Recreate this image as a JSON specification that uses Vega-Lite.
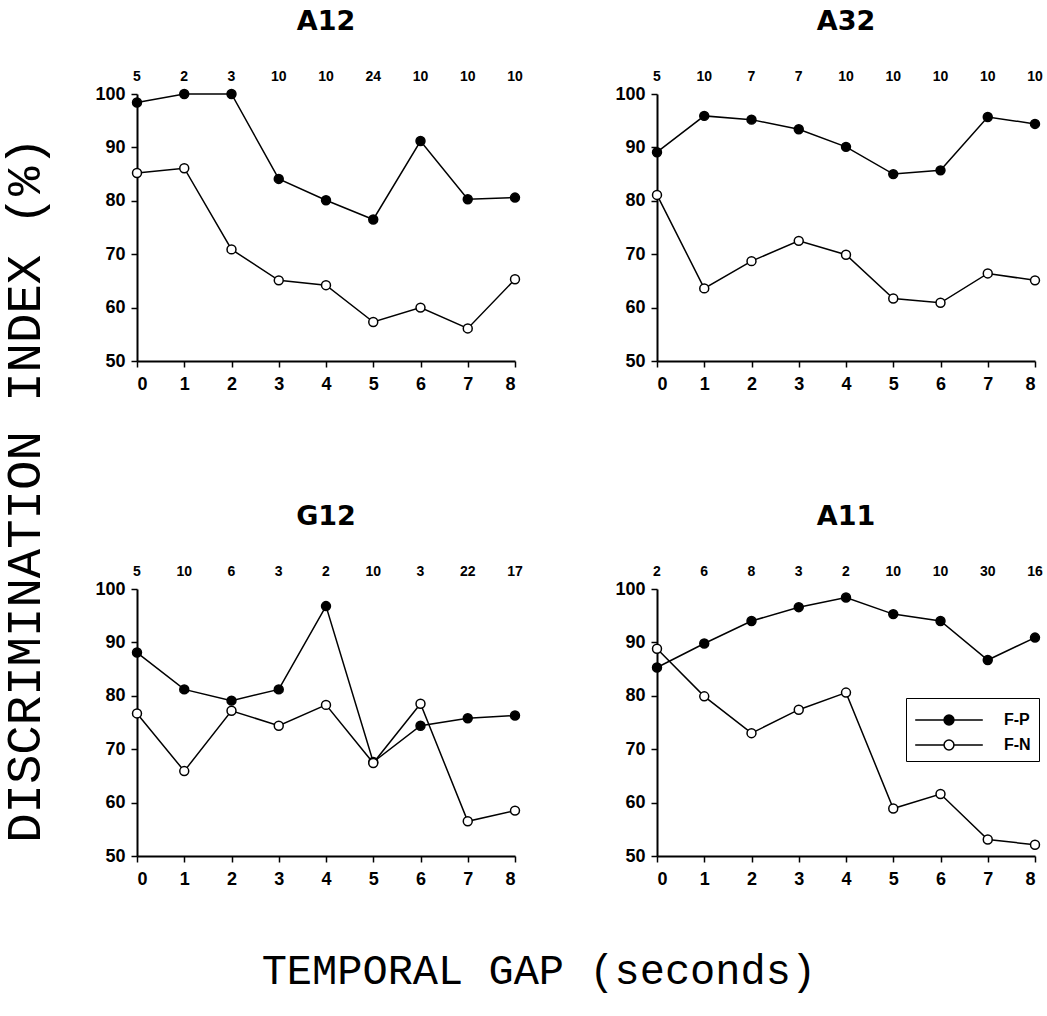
{
  "$schema": "https://vega.github.io/schema/vega-lite/v6.json",
  "background": "white",
  "padding": {"left": 0, "top": 8, "right": 0, "bottom": 16},
  "config": {
    "view": {"stroke": null},
    "axis": {
      "grid": false,
      "domainColor": "black",
      "domainWidth": 2,
      "tickColor": "black",
      "tickWidth": 1.5,
      "tickSize": 6,
      "labelFont": "Liberation Sans",
      "labelFontWeight": "bold",
      "labelFontSize": 18,
      "labelColor": "black",
      "title": null
    },
    "title": {"font": "DejaVu Sans", "fontWeight": "bold", "fontSize": 27, "color": "black", "offset": 34}
  },
  "datasets": {
    "points": [
      {"panel": "A12", "gap": 0, "cond": "F-P", "value": 98.4},
      {"panel": "A12", "gap": 1, "cond": "F-P", "value": 100},
      {"panel": "A12", "gap": 2, "cond": "F-P", "value": 100},
      {"panel": "A12", "gap": 3, "cond": "F-P", "value": 84.1},
      {"panel": "A12", "gap": 4, "cond": "F-P", "value": 80.1},
      {"panel": "A12", "gap": 5, "cond": "F-P", "value": 76.5},
      {"panel": "A12", "gap": 6, "cond": "F-P", "value": 91.2},
      {"panel": "A12", "gap": 7, "cond": "F-P", "value": 80.3},
      {"panel": "A12", "gap": 8, "cond": "F-P", "value": 80.6},
      {"panel": "A12", "gap": 0, "cond": "F-N", "value": 85.2},
      {"panel": "A12", "gap": 1, "cond": "F-N", "value": 86.1},
      {"panel": "A12", "gap": 2, "cond": "F-N", "value": 70.9},
      {"panel": "A12", "gap": 3, "cond": "F-N", "value": 65.1},
      {"panel": "A12", "gap": 4, "cond": "F-N", "value": 64.2},
      {"panel": "A12", "gap": 5, "cond": "F-N", "value": 57.3},
      {"panel": "A12", "gap": 6, "cond": "F-N", "value": 60.0},
      {"panel": "A12", "gap": 7, "cond": "F-N", "value": 56.1},
      {"panel": "A12", "gap": 8, "cond": "F-N", "value": 65.3},
      {"panel": "A32", "gap": 0, "cond": "F-P", "value": 89.1},
      {"panel": "A32", "gap": 1, "cond": "F-P", "value": 95.9},
      {"panel": "A32", "gap": 2, "cond": "F-P", "value": 95.2},
      {"panel": "A32", "gap": 3, "cond": "F-P", "value": 93.4},
      {"panel": "A32", "gap": 4, "cond": "F-P", "value": 90.1},
      {"panel": "A32", "gap": 5, "cond": "F-P", "value": 85.0},
      {"panel": "A32", "gap": 6, "cond": "F-P", "value": 85.7},
      {"panel": "A32", "gap": 7, "cond": "F-P", "value": 95.7},
      {"panel": "A32", "gap": 8, "cond": "F-P", "value": 94.4},
      {"panel": "A32", "gap": 0, "cond": "F-N", "value": 81.1},
      {"panel": "A32", "gap": 1, "cond": "F-N", "value": 63.6},
      {"panel": "A32", "gap": 2, "cond": "F-N", "value": 68.7},
      {"panel": "A32", "gap": 3, "cond": "F-N", "value": 72.5},
      {"panel": "A32", "gap": 4, "cond": "F-N", "value": 69.9},
      {"panel": "A32", "gap": 5, "cond": "F-N", "value": 61.7},
      {"panel": "A32", "gap": 6, "cond": "F-N", "value": 60.9},
      {"panel": "A32", "gap": 7, "cond": "F-N", "value": 66.4},
      {"panel": "A32", "gap": 8, "cond": "F-N", "value": 65.1},
      {"panel": "G12", "gap": 0, "cond": "F-P", "value": 88.1},
      {"panel": "G12", "gap": 1, "cond": "F-P", "value": 81.2},
      {"panel": "G12", "gap": 2, "cond": "F-P", "value": 79.1},
      {"panel": "G12", "gap": 3, "cond": "F-P", "value": 81.2},
      {"panel": "G12", "gap": 4, "cond": "F-P", "value": 96.8},
      {"panel": "G12", "gap": 5, "cond": "F-P", "value": 67.6},
      {"panel": "G12", "gap": 6, "cond": "F-P", "value": 74.4},
      {"panel": "G12", "gap": 7, "cond": "F-P", "value": 75.8},
      {"panel": "G12", "gap": 8, "cond": "F-P", "value": 76.3},
      {"panel": "G12", "gap": 0, "cond": "F-N", "value": 76.7},
      {"panel": "G12", "gap": 1, "cond": "F-N", "value": 65.9},
      {"panel": "G12", "gap": 2, "cond": "F-N", "value": 77.2},
      {"panel": "G12", "gap": 3, "cond": "F-N", "value": 74.4},
      {"panel": "G12", "gap": 4, "cond": "F-N", "value": 78.3},
      {"panel": "G12", "gap": 5, "cond": "F-N", "value": 67.4},
      {"panel": "G12", "gap": 6, "cond": "F-N", "value": 78.5},
      {"panel": "G12", "gap": 7, "cond": "F-N", "value": 56.5},
      {"panel": "G12", "gap": 8, "cond": "F-N", "value": 58.5},
      {"panel": "A11", "gap": 0, "cond": "F-P", "value": 85.3},
      {"panel": "A11", "gap": 1, "cond": "F-P", "value": 89.8},
      {"panel": "A11", "gap": 2, "cond": "F-P", "value": 94.0},
      {"panel": "A11", "gap": 3, "cond": "F-P", "value": 96.6},
      {"panel": "A11", "gap": 4, "cond": "F-P", "value": 98.4},
      {"panel": "A11", "gap": 5, "cond": "F-P", "value": 95.3},
      {"panel": "A11", "gap": 6, "cond": "F-P", "value": 94.0},
      {"panel": "A11", "gap": 7, "cond": "F-P", "value": 86.7},
      {"panel": "A11", "gap": 8, "cond": "F-P", "value": 90.9},
      {"panel": "A11", "gap": 0, "cond": "F-N", "value": 88.8},
      {"panel": "A11", "gap": 1, "cond": "F-N", "value": 79.9},
      {"panel": "A11", "gap": 2, "cond": "F-N", "value": 73.0},
      {"panel": "A11", "gap": 3, "cond": "F-N", "value": 77.4},
      {"panel": "A11", "gap": 4, "cond": "F-N", "value": 80.6},
      {"panel": "A11", "gap": 5, "cond": "F-N", "value": 58.9},
      {"panel": "A11", "gap": 6, "cond": "F-N", "value": 61.6},
      {"panel": "A11", "gap": 7, "cond": "F-N", "value": 53.1},
      {"panel": "A11", "gap": 8, "cond": "F-N", "value": 52.1}
    ],
    "counts": [
      {"panel": "A12", "gap": 0, "n": 5}, {"panel": "A12", "gap": 1, "n": 2}, {"panel": "A12", "gap": 2, "n": 3},
      {"panel": "A12", "gap": 3, "n": 10}, {"panel": "A12", "gap": 4, "n": 10}, {"panel": "A12", "gap": 5, "n": 24},
      {"panel": "A12", "gap": 6, "n": 10}, {"panel": "A12", "gap": 7, "n": 10}, {"panel": "A12", "gap": 8, "n": 10},
      {"panel": "A32", "gap": 0, "n": 5}, {"panel": "A32", "gap": 1, "n": 10}, {"panel": "A32", "gap": 2, "n": 7},
      {"panel": "A32", "gap": 3, "n": 7}, {"panel": "A32", "gap": 4, "n": 10}, {"panel": "A32", "gap": 5, "n": 10},
      {"panel": "A32", "gap": 6, "n": 10}, {"panel": "A32", "gap": 7, "n": 10}, {"panel": "A32", "gap": 8, "n": 10},
      {"panel": "G12", "gap": 0, "n": 5}, {"panel": "G12", "gap": 1, "n": 10}, {"panel": "G12", "gap": 2, "n": 6},
      {"panel": "G12", "gap": 3, "n": 3}, {"panel": "G12", "gap": 4, "n": 2}, {"panel": "G12", "gap": 5, "n": 10},
      {"panel": "G12", "gap": 6, "n": 3}, {"panel": "G12", "gap": 7, "n": 22}, {"panel": "G12", "gap": 8, "n": 17},
      {"panel": "A11", "gap": 0, "n": 2}, {"panel": "A11", "gap": 1, "n": 6}, {"panel": "A11", "gap": 2, "n": 8},
      {"panel": "A11", "gap": 3, "n": 3}, {"panel": "A11", "gap": 4, "n": 2}, {"panel": "A11", "gap": 5, "n": 10},
      {"panel": "A11", "gap": 6, "n": 10}, {"panel": "A11", "gap": 7, "n": 30}, {"panel": "A11", "gap": 8, "n": 16}
    ]
  },
  "title": {"text": "TEMPORAL GAP  (seconds)", "orient": "bottom", "font": "Liberation Mono", "fontWeight": "normal", "fontSize": 42, "offset": 63, "anchor": "middle", "dx": 17},
  "vconcat": [
    {
      "title": {"text": "DISCRIMINATION INDEX (%)", "orient": "left", "font": "Liberation Mono", "fontWeight": "normal", "fontSize": 49, "offset": 45, "anchor": "middle", "dx": -42},
      "spacing": 495,
      "bounds": "flush",
      "resolve": {"scale": {"fill": "independent"}, "legend": {"fill": "independent"}},
      "vconcat": [
        {
          "spacing": 142,
          "bounds": "flush",
          "resolve": {"scale": {"fill": "independent"}, "legend": {"fill": "independent"}},
          "hconcat": [
            {
              "width": 378, "height": 267,
              "title": "A12",
              "layer": [
                {"data": {"name": "points"}, "transform": [{"filter": "datum.panel === 'A12'"}],
                 "mark": {"type": "line", "color": "black", "strokeWidth": 1.5},
                 "encoding": {"x": {"field": "gap", "type": "quantitative", "scale": {"domain": [0, 8], "nice": false}, "axis": {"values": [0,1,2,3,4,5,6,7,8], "labelPadding": 8}},
                              "y": {"field": "value", "type": "quantitative", "scale": {"domain": [50, 100], "nice": false, "zero": false}, "axis": {"values": [50,60,70,80,90,100], "labelPadding": 6}},
                              "detail": {"field": "cond"}}},
                {"data": {"name": "points"}, "transform": [{"filter": "datum.panel === 'A12'"}],
                 "mark": {"type": "point", "shape": "circle", "size": 80, "stroke": "black", "strokeWidth": 1.5, "opacity": 1},
                 "encoding": {"x": {"field": "gap", "type": "quantitative"}, "y": {"field": "value", "type": "quantitative"},
                              "fill": {"field": "cond", "type": "nominal", "scale": {"domain": ["F-P", "F-N"], "range": ["black", "white"]}, "legend": null}}},
                {"data": {"name": "counts"}, "transform": [{"filter": "datum.panel === 'A12'"}],
                 "mark": {"type": "text", "font": "Liberation Sans", "fontWeight": "bold", "fontSize": 14, "baseline": "alphabetic", "dy": -13, "color": "black"},
                 "encoding": {"x": {"field": "gap", "type": "quantitative"}, "y": {"value": 0}, "text": {"field": "n", "type": "quantitative"}}}
              ]
            },
            {
              "width": 378, "height": 267,
              "title": "A32",
              "layer": [
                {"data": {"name": "points"}, "transform": [{"filter": "datum.panel === 'A32'"}],
                 "mark": {"type": "line", "color": "black", "strokeWidth": 1.5},
                 "encoding": {"x": {"field": "gap", "type": "quantitative", "scale": {"domain": [0, 8], "nice": false}, "axis": {"values": [0,1,2,3,4,5,6,7,8], "labelPadding": 8}},
                              "y": {"field": "value", "type": "quantitative", "scale": {"domain": [50, 100], "nice": false, "zero": false}, "axis": {"values": [50,60,70,80,90,100], "labelPadding": 6}},
                              "detail": {"field": "cond"}}},
                {"data": {"name": "points"}, "transform": [{"filter": "datum.panel === 'A32'"}],
                 "mark": {"type": "point", "shape": "circle", "size": 80, "stroke": "black", "strokeWidth": 1.5, "opacity": 1},
                 "encoding": {"x": {"field": "gap", "type": "quantitative"}, "y": {"field": "value", "type": "quantitative"},
                              "fill": {"field": "cond", "type": "nominal", "scale": {"domain": ["F-P", "F-N"], "range": ["black", "white"]}, "legend": null}}},
                {"data": {"name": "counts"}, "transform": [{"filter": "datum.panel === 'A32'"}],
                 "mark": {"type": "text", "font": "Liberation Sans", "fontWeight": "bold", "fontSize": 14, "baseline": "alphabetic", "dy": -13, "color": "black"},
                 "encoding": {"x": {"field": "gap", "type": "quantitative"}, "y": {"value": 0}, "text": {"field": "n", "type": "quantitative"}}}
              ]
            }
          ]
        },
        {
          "spacing": 142,
          "bounds": "flush",
          "resolve": {"scale": {"fill": "independent"}, "legend": {"fill": "independent"}},
          "hconcat": [
            {
              "width": 378, "height": 267,
              "title": "G12",
              "layer": [
                {"data": {"name": "points"}, "transform": [{"filter": "datum.panel === 'G12'"}],
                 "mark": {"type": "line", "color": "black", "strokeWidth": 1.5},
                 "encoding": {"x": {"field": "gap", "type": "quantitative", "scale": {"domain": [0, 8], "nice": false}, "axis": {"values": [0,1,2,3,4,5,6,7,8], "labelPadding": 8}},
                              "y": {"field": "value", "type": "quantitative", "scale": {"domain": [50, 100], "nice": false, "zero": false}, "axis": {"values": [50,60,70,80,90,100], "labelPadding": 6}},
                              "detail": {"field": "cond"}}},
                {"data": {"name": "points"}, "transform": [{"filter": "datum.panel === 'G12'"}],
                 "mark": {"type": "point", "shape": "circle", "size": 80, "stroke": "black", "strokeWidth": 1.5, "opacity": 1},
                 "encoding": {"x": {"field": "gap", "type": "quantitative"}, "y": {"field": "value", "type": "quantitative"},
                              "fill": {"field": "cond", "type": "nominal", "scale": {"domain": ["F-P", "F-N"], "range": ["black", "white"]}, "legend": null}}},
                {"data": {"name": "counts"}, "transform": [{"filter": "datum.panel === 'G12'"}],
                 "mark": {"type": "text", "font": "Liberation Sans", "fontWeight": "bold", "fontSize": 14, "baseline": "alphabetic", "dy": -13, "color": "black"},
                 "encoding": {"x": {"field": "gap", "type": "quantitative"}, "y": {"value": 0}, "text": {"field": "n", "type": "quantitative"}}}
              ]
            },
            {
              "width": 378, "height": 267,
              "title": "A11",
              "layer": [
                {"data": {"name": "points"}, "transform": [{"filter": "datum.panel === 'A11'"}],
                 "mark": {"type": "line", "color": "black", "strokeWidth": 1.5},
                 "encoding": {"x": {"field": "gap", "type": "quantitative", "scale": {"domain": [0, 8], "nice": false}, "axis": {"values": [0,1,2,3,4,5,6,7,8], "labelPadding": 8}},
                              "y": {"field": "value", "type": "quantitative", "scale": {"domain": [50, 100], "nice": false, "zero": false}, "axis": {"values": [50,60,70,80,90,100], "labelPadding": 6}},
                              "detail": {"field": "cond"}}},
                {"data": {"name": "points"}, "transform": [{"filter": "datum.panel === 'A11'"}],
                 "mark": {"type": "point", "shape": "circle", "size": 80, "stroke": "black", "strokeWidth": 1.5, "opacity": 1},
                 "encoding": {"x": {"field": "gap", "type": "quantitative"}, "y": {"field": "value", "type": "quantitative"},
                              "fill": {"field": "cond", "type": "nominal", "scale": {"domain": ["F-P", "F-N"], "range": ["black", "white"]},
                                       "legend": {"title": null, "orient": "none", "legendX": 249, "legendY": 109, "direction": "vertical",
                                                  "symbolType": "M-2.6,0L-0.38,0M0.38,0L2.6,0M-0.38,0A0.38,0.38,0,1,1,0.38,0A0.38,0.38,0,1,1,-0.38,0Z",
                                                  "symbolSize": 676, "symbolOffset": 21, "symbolStrokeColor": "black", "symbolStrokeWidth": 1.5,
                                                  "labelFont": "Liberation Sans", "labelFontWeight": "bold", "labelFontSize": 16, "labelColor": "black",
                                                  "labelOffset": 41, "strokeColor": "black", "padding": 8, "rowPadding": 3}}}},
                {"data": {"name": "counts"}, "transform": [{"filter": "datum.panel === 'A11'"}],
                 "mark": {"type": "text", "font": "Liberation Sans", "fontWeight": "bold", "fontSize": 14, "baseline": "alphabetic", "dy": -13, "color": "black"},
                 "encoding": {"x": {"field": "gap", "type": "quantitative"}, "y": {"value": 0}, "text": {"field": "n", "type": "quantitative"}}}
              ]
            }
          ]
        }
      ]
    }
  ]
}
